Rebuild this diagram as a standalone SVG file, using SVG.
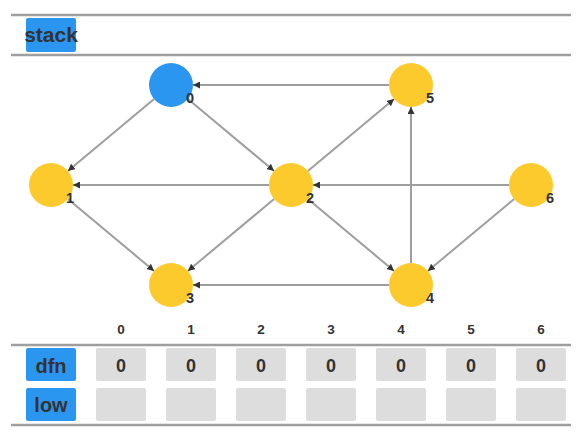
<svg xmlns="http://www.w3.org/2000/svg" width="579" height="435" viewBox="0 0 579 435">
<style>
.rule{stroke:#9e9e9e;stroke-width:2.5;fill:none}
.edge{stroke:#9e9e9e;stroke-width:2;fill:none}
.tag{fill:#2b96f0}
.tagt{font-family:"Liberation Sans",Arial,sans-serif;font-weight:bold;font-size:20px;fill:#333;text-anchor:middle}
.idx{font-family:"Liberation Sans",Arial,sans-serif;font-weight:bold;font-size:13.5px;fill:#333;text-anchor:middle}
.cell{fill:#dddddd}
.cellt{font-family:"Liberation Sans",Arial,sans-serif;font-weight:bold;font-size:18px;fill:#333;text-anchor:middle}
.node{fill:#fdca2d}
.node.on{fill:#2b96f0}
.nl{font-family:"Liberation Sans",Arial,sans-serif;font-weight:bold;font-size:14.5px;fill:#333;text-anchor:middle}
</style>
<defs>
<marker id="arr" viewBox="0 0 10 10" refX="10" refY="5" markerWidth="7" markerHeight="7" markerUnits="userSpaceOnUse" orient="auto">
<path d="M0,0 L10,5 L0,10 z" fill="#333"/>
</marker>
</defs>
<rect width="579" height="435" fill="#fff"/>
<g id="stack">
<line class="rule" x1="11" y1="15" x2="571" y2="15"/>
<line class="rule" x1="11" y1="55" x2="571" y2="55"/>
<rect class="tag" x="26" y="18" width="50" height="34" rx="2"/>
<text class="tagt" x="51" y="42" style="font-size:21px">stack</text>
</g>
<g id="connectors">
<line class="edge" x1="389" y1="85" x2="193" y2="85" marker-end="url(#arr)"/>
<line class="edge" x1="154.1" y1="99.1" x2="67.9" y2="170.9" marker-end="url(#arr)"/>
<line class="edge" x1="187.9" y1="99.1" x2="274.1" y2="170.9" marker-end="url(#arr)"/>
<line class="edge" x1="269" y1="185" x2="73" y2="185" marker-end="url(#arr)"/>
<line class="edge" x1="307.9" y1="170.9" x2="394.1" y2="99.1" marker-end="url(#arr)"/>
<line class="edge" x1="274.1" y1="199.1" x2="187.9" y2="270.9" marker-end="url(#arr)"/>
<line class="edge" x1="307.9" y1="199.1" x2="394.1" y2="270.9" marker-end="url(#arr)"/>
<line class="edge" x1="67.9" y1="199.1" x2="154.1" y2="270.9" marker-end="url(#arr)"/>
<line class="edge" x1="509" y1="185" x2="313" y2="185" marker-end="url(#arr)"/>
<line class="edge" x1="514.1" y1="199.1" x2="427.9" y2="270.9" marker-end="url(#arr)"/>
<line class="edge" x1="389" y1="285" x2="193" y2="285" marker-end="url(#arr)"/>
<line class="edge" x1="411" y1="263" x2="411" y2="107" marker-end="url(#arr)"/>
</g>
<g id="node0"><circle class="node on" cx="171" cy="85" r="22"/><text class="nl" x="190" y="103">0</text></g>
<g id="node1"><circle class="node" cx="51" cy="185" r="22"/><text class="nl" x="70" y="203">1</text></g>
<g id="node2"><circle class="node" cx="291" cy="185" r="22"/><text class="nl" x="310" y="203">2</text></g>
<g id="node3"><circle class="node" cx="171" cy="285" r="22"/><text class="nl" x="190" y="303">3</text></g>
<g id="node4"><circle class="node" cx="411" cy="285" r="22"/><text class="nl" x="430" y="303">4</text></g>
<g id="node5"><circle class="node" cx="411" cy="85" r="22"/><text class="nl" x="430" y="103">5</text></g>
<g id="node6"><circle class="node" cx="531" cy="185" r="22"/><text class="nl" x="550" y="203">6</text></g>
<g id="table">
<text class="idx" x="121" y="334">0</text>
<text class="idx" x="191" y="334">1</text>
<text class="idx" x="261" y="334">2</text>
<text class="idx" x="331" y="334">3</text>
<text class="idx" x="401" y="334">4</text>
<text class="idx" x="471" y="334">5</text>
<text class="idx" x="541" y="334">6</text>
<line class="rule" x1="11" y1="345" x2="571" y2="345"/>
<line class="rule" x1="11" y1="425" x2="571" y2="425"/>
<rect class="tag" x="26" y="348" width="50" height="33" rx="2"/>
<text class="tagt" x="51" y="373">dfn</text>
<rect class="tag" x="26" y="388" width="50" height="33" rx="2"/>
<text class="tagt" x="51" y="412">low</text>
<rect class="cell" x="96" y="348" width="50" height="33" rx="2"/>
<rect class="cell" x="166" y="348" width="50" height="33" rx="2"/>
<rect class="cell" x="236" y="348" width="50" height="33" rx="2"/>
<rect class="cell" x="306" y="348" width="50" height="33" rx="2"/>
<rect class="cell" x="376" y="348" width="50" height="33" rx="2"/>
<rect class="cell" x="446" y="348" width="50" height="33" rx="2"/>
<rect class="cell" x="516" y="348" width="50" height="33" rx="2"/>
<text class="cellt" x="121" y="372">0</text>
<text class="cellt" x="191" y="372">0</text>
<text class="cellt" x="261" y="372">0</text>
<text class="cellt" x="331" y="372">0</text>
<text class="cellt" x="401" y="372">0</text>
<text class="cellt" x="471" y="372">0</text>
<text class="cellt" x="541" y="372">0</text>
<rect class="cell" x="96" y="388" width="50" height="33" rx="2"/>
<rect class="cell" x="166" y="388" width="50" height="33" rx="2"/>
<rect class="cell" x="236" y="388" width="50" height="33" rx="2"/>
<rect class="cell" x="306" y="388" width="50" height="33" rx="2"/>
<rect class="cell" x="376" y="388" width="50" height="33" rx="2"/>
<rect class="cell" x="446" y="388" width="50" height="33" rx="2"/>
<rect class="cell" x="516" y="388" width="50" height="33" rx="2"/>
</g>
</svg>
